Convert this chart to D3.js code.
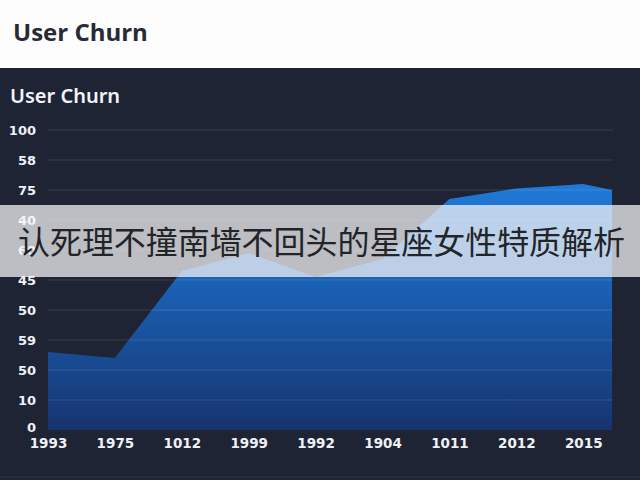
<!DOCTYPE html>
<html>
<head>
<meta charset="utf-8">
<script src="https://cdn.jsdelivr.net/npm/d3@7"></script>
<style>
  html, body { margin: 0; padding: 0; background: #fff; }
  svg { display: block; }
</style>
</head>
<body>
<svg id="chart" width="640" height="480"></svg>
<script>
const width = 640;
const height = 480;

// tick labels as printed on the chart (top of axis = 100 on the scale)
const yTickValues = [0, 10, 20, 30, 40, 50, 60, 70, 80, 90, 100];
const yTickLabels = ["0", "10", "50", "59", "50", "45", "60", "40", "75", "58", "100"];
const years = ["1993", "1975", "1012", "1999", "1992", "1904", "1011", "2012", "2015"];
const churn = [26, 24, 53, 59, 51, 57, 77, 80.5, 82];
const tailValue = 80; // area runs on a little past the last label
const tailIndex = 8.43;

const bannerText = "认死理不撞南墙不回头的星座女性特质解析";

const svg = d3.select("#chart");

// white header
svg.append("rect").attr("width", width).attr("height", 68).attr("fill", "#fdfdfd");
svg.append("text")
  .attr("x", 13).attr("y", 41)
  .attr("font-family", "'Open Sans', 'Noto Sans', sans-serif")
  .attr("font-weight", 700).attr("font-size", 24)
  .attr("fill", "#262b36")
  .text("User Churn");

// dark panel
svg.append("rect").attr("y", 68).attr("width", width).attr("height", height - 68).attr("fill", "#1e2434");
svg.append("line").attr("x1", 0).attr("x2", width).attr("y1", 477).attr("y2", 477)
  .attr("stroke", "#2c3345").attr("stroke-width", 1);

svg.append("text")
  .attr("x", 10).attr("y", 103)
  .attr("font-family", "'Noto Sans', sans-serif")
  .attr("font-weight", 600).attr("font-size", 20)
  .attr("fill", "#f2f4f8")
  .text("User Churn");

const x = d3.scaleLinear().domain([0, tailIndex]).range([48, 612]);
const y = d3.scaleLinear().domain([0, 100]).range([430, 130]);

const defs = svg.append("defs");
const grad = defs.append("linearGradient")
  .attr("id", "areaGrad").attr("x1", 0).attr("x2", 0).attr("y1", 0).attr("y2", 1);
grad.append("stop").attr("offset", "0%").attr("stop-color", "#1f7ad6");
grad.append("stop").attr("offset", "45%").attr("stop-color", "#1a5eb0");
grad.append("stop").attr("offset", "100%").attr("stop-color", "#16346f");

const points = churn.map((v, i) => ({ i: i, v: v }));
points.push({ i: tailIndex, v: tailValue });

const area = d3.area()
  .x(d => x(d.i))
  .y0(y(0))
  .y1(d => y(d.v));

svg.append("path")
  .datum(points)
  .attr("d", area)
  .attr("fill", "url(#areaGrad)");

// grid lines over the area
svg.append("g")
  .selectAll("line")
  .data(yTickValues.filter(d => d > 0))
  .enter()
  .append("line")
  .attr("x1", 48).attr("x2", 613)
  .attr("y1", d => y(d)).attr("y2", d => y(d))
  .attr("stroke", "#ffffff").attr("stroke-opacity", 0.12).attr("stroke-width", 1.2);

// y axis
const yAxis = svg.append("g")
  .attr("transform", "translate(40,0)")
  .call(d3.axisLeft(y).tickValues(yTickValues).tickSize(0).tickPadding(4)
    .tickFormat((d, i) => yTickLabels[i]));
yAxis.select(".domain").remove();
yAxis.selectAll("text")
  .attr("font-family", "'DejaVu Sans', sans-serif")
  .attr("font-weight", 700).attr("font-size", 13)
  .attr("fill", "#eef1f6");
yAxis.selectAll(".tick").filter(d => d === 0).select("text").attr("dy", "0.1em");

// x axis
const xAxis = svg.append("g")
  .attr("transform", `translate(0,${y(0)})`)
  .call(d3.axisBottom(x).tickValues(d3.range(years.length)).tickSize(0).tickPadding(8)
    .tickFormat(d => years[d]));
xAxis.select(".domain").remove();
xAxis.selectAll("text")
  .attr("font-family", "'DejaVu Sans', sans-serif")
  .attr("font-weight", 700).attr("font-size", 13.5)
  .attr("fill", "#eef1f6");

// overlay banner
svg.append("rect")
  .attr("x", 0).attr("y", 205).attr("width", width).attr("height", 72)
  .attr("fill", "#f4f4f6").attr("fill-opacity", 0.74);
svg.append("text")
  .attr("x", 18).attr("y", 254)
  .attr("font-family", "'Noto Sans CJK SC', sans-serif")
  .attr("font-size", 32)
  .attr("textLength", 607)
  .attr("fill", "#222428")
  .text(bannerText);
</script>
</body>
</html>
